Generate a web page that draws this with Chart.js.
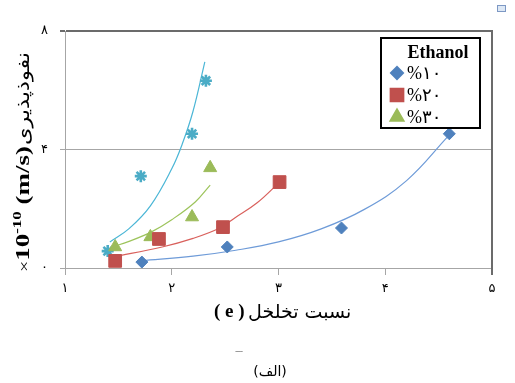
<!DOCTYPE html>
<html>
<head>
<meta charset="utf-8">
<script src="https://cdn.jsdelivr.net/npm/chart.js@4.4.1/dist/chart.umd.min.js"></script>
<style>
  html, body { margin: 0; padding: 0; background: #fff; }
  canvas { display: block; }
</style>
</head>
<body>
<canvas id="chartCanvas" width="515" height="383"></canvas>
<script>
// tick values and their Persian labels
const xTickValues = [1, 2, 3, 4, 5];
const xTickLabels = ['۱', '۲', '۳', '۴', '۵'];
const yTickValues = [0, 4, 8];
const yTickLabels = ['۰', '۴', '۸'];

// ethanol series (measured points)
const seriesLabels = ['%۱۰', '%۲۰', '%۳۰'];
const e10X = [1.72, 2.52, 3.59, 4.60];
const e10Y = [0.20, 0.71, 1.35, 4.53];
const e20X = [1.47, 1.88, 2.48, 3.01];
const e20Y = [0.24, 0.98, 1.38, 2.90];
const e30X = [1.47, 1.80, 2.19, 2.36];
const e30Y = [0.71, 1.05, 1.72, 3.38];
const e40X = [1.40, 1.71, 2.19, 2.32];
const e40Y = [0.57, 3.10, 4.53, 6.32];

// trend lines
const t10X = [1.72, 2.20, 2.60, 3.00, 3.40, 3.80, 4.20, 4.59];
const t10Y = [0.25, 0.40, 0.60, 0.88, 1.32, 1.97, 2.95, 4.45];
const t20X = [1.45, 1.91, 2.20, 2.45, 2.59, 2.80, 3.01];
const t20Y = [0.37, 0.71, 1.00, 1.35, 1.69, 2.20, 2.90];
const t30X = [1.44, 1.60, 1.81, 2.00, 2.22, 2.36];
const t30Y = [0.71, 0.90, 1.22, 1.63, 2.23, 2.80];
const t40X = [1.42, 1.60, 1.80, 2.00, 2.10, 2.20, 2.31];
const t40Y = [0.88, 1.33, 2.10, 3.35, 4.20, 5.30, 6.96];

const colors = ['#4F81BD', '#C0504D', '#9BBB59', '#4BACC6'];
const lineColors = ['#6E9BD8', '#D9605C', '#9DC45C', '#4BB6D6'];

function pts(xs, ys) {
  return xs.map((x, i) => ({ x: x, y: ys[i] }));
}

function trend(xs, ys, i) {
  return {
    type: 'line', label: '', data: pts(xs, ys),
    borderColor: lineColors[i], borderWidth: 1.2, pointRadius: 0,
    tension: 0.4, fill: false, order: 2
  };
}

const markerStyles = [
  { pointStyle: 'rectRot', pointRadius: 6, pointBorderWidth: 1 },
  { pointStyle: 'rect', pointRadius: 9, pointBorderWidth: 1 },
  { pointStyle: 'triangle', pointRadius: 7.5, pointBorderWidth: 1 },
  { pointStyle: 'star', pointRadius: 6, pointBorderWidth: 2.6 }
];

function marks(xs, ys, i, label) {
  return Object.assign({
    type: 'scatter', label: label, data: pts(xs, ys),
    backgroundColor: colors[i], borderColor: colors[i], showLine: false, order: 1
  }, markerStyles[i]);
}

const datasets = [
  trend(t10X, t10Y, 0), trend(t20X, t20Y, 1), trend(t30X, t30Y, 2), trend(t40X, t40Y, 3),
  marks(e10X, e10Y, 0, seriesLabels[0]),
  marks(e20X, e20Y, 1, seriesLabels[1]),
  marks(e30X, e30Y, 2, seriesLabels[2]),
  marks(e40X, e40Y, 3, '')
];

// draw a list of text pieces in a row, stretched to a given total width
function drawRow(ctx, parts, x, y, width) {
  let natural = 0;
  parts.forEach(p => { ctx.font = p[1]; natural += ctx.measureText(p[0]).width; });
  ctx.save();
  ctx.translate(x, y);
  ctx.scale(width / natural, 1);
  let cx = 0;
  parts.forEach(p => {
    ctx.font = p[1];
    ctx.fillText(p[0], cx, p[2]);
    cx += ctx.measureText(p[0]).width;
  });
  ctx.restore();
}

const extras = {
  id: 'extras',
  afterDraw(chart) {
    const ctx = chart.ctx;
    const area = chart.chartArea;
    ctx.save();

    // right border of plot
    ctx.strokeStyle = '#6b6b6b';
    ctx.lineWidth = 2;
    ctx.beginPath();
    ctx.moveTo(area.right, area.top - 1);
    ctx.lineTo(area.right, area.bottom + 7);
    ctx.stroke();

    // legend box
    ctx.fillStyle = '#fff';
    ctx.fillRect(381, 38, 99, 90);
    ctx.strokeStyle = '#000';
    ctx.lineWidth = 2;
    ctx.strokeRect(381, 38, 99, 90);
    ctx.fillStyle = '#000';
    ctx.font = 'bold 18px "Liberation Serif"';
    ctx.textAlign = 'center';
    ctx.textBaseline = 'middle';
    ctx.fillText('Ethanol', 438, 53);
    const rows = [73, 95, 117];
    const legendSets = chart.data.datasets.filter(d => d.type === 'scatter' && d.label);
    legendSets.forEach((d, i) => {
      ctx.fillStyle = d.backgroundColor;
      ctx.strokeStyle = d.borderColor;
      Chart.helpers.drawPoint(ctx, {
        pointStyle: d.pointStyle, radius: d.pointRadius, rotation: 0, borderWidth: d.pointBorderWidth
      }, 397, rows[i]);
      ctx.fillStyle = '#000';
      ctx.font = '18px "Liberation Serif", "DejaVu Sans"';
      ctx.textAlign = 'left';
      ctx.fillText(d.label, 407, rows[i] + 1);
    });

    // y axis title, rotated
    ctx.translate(24, 272);
    ctx.rotate(-Math.PI / 2);
    ctx.fillStyle = '#000';
    ctx.textAlign = 'left';
    ctx.textBaseline = 'middle';
    drawRow(ctx, [
      ['×', '14px "Liberation Serif"', 1],
      ['10', 'bold 19px "Liberation Serif"', 0],
      ['-10', 'bold 12px "Liberation Serif"', -6],
      [' (m/s)', 'bold 19px "Liberation Serif"', 0]
    ], 0, 0, 126);
    drawRow(ctx, [['نفوذپذیری', '18px "DejaVu Sans"', 0]], 127, 0, 93);
    ctx.restore();

    // x axis title
    ctx.save();
    ctx.fillStyle = '#000';
    ctx.textBaseline = 'middle';
    ctx.font = 'bold 19px "Liberation Serif"';
    ctx.textAlign = 'left';
    ctx.fillText('( e )', 214, 312);
    ctx.font = '19px "DejaVu Sans"';
    ctx.fillText('نسبت تخلخل', 248, 313);

    // caption
    ctx.font = '8px "DejaVu Sans"';
    ctx.fillStyle = '#777';
    ctx.textAlign = 'center';
    ctx.fillText('ـــ', 239, 350);
    ctx.font = '14px "DejaVu Sans"';
    ctx.fillStyle = '#000';
    ctx.fillText('(الف)', 270, 372);

    // small icon top right
    ctx.fillStyle = '#dde8f5';
    ctx.fillRect(497, 5, 8, 6);
    ctx.strokeStyle = '#7d98c4';
    ctx.lineWidth = 1;
    ctx.strokeRect(497.5, 5.5, 8, 6);
    ctx.restore();
  }
};

new Chart(document.getElementById('chartCanvas').getContext('2d'), {
  type: 'scatter',
  data: { datasets: datasets },
  options: {
    responsive: false,
    animation: false,
    devicePixelRatio: 1,
    layout: { padding: { left: 0, top: 31, right: 23, bottom: 0 } },
    plugins: { legend: { display: false }, tooltip: { enabled: false } },
    scales: {
      x: {
        type: 'linear', min: 1, max: 5,
        afterFit: s => { s.height = 115; },
        afterBuildTicks: s => { s.ticks = xTickValues.map(v => ({ value: v })); },
        ticks: {
          padding: 6, color: '#000',
          font: { family: '"DejaVu Sans"', size: 13 },
          callback: v => xTickLabels[xTickValues.indexOf(v)]
        },
        grid: { drawOnChartArea: false, drawTicks: true, tickLength: 7, color: '#a6a6a6' },
        border: { color: '#a6a6a6', width: 1 }
      },
      y: {
        type: 'linear', min: 0, max: 8,
        afterFit: s => { s.width = 65; },
        afterBuildTicks: s => { s.ticks = yTickValues.map(v => ({ value: v })); },
        ticks: {
          padding: 12, color: '#000',
          font: { family: '"DejaVu Sans"', size: 13 },
          callback: v => yTickLabels[yTickValues.indexOf(v)]
        },
        grid: {
          tickLength: 5,
          color: c => (c.tick && c.tick.value === 8 ? '#6b6b6b' : '#a6a6a6'),
          lineWidth: c => (c.tick && c.tick.value === 8 ? 2 : 1)
        },
        border: { color: '#a6a6a6', width: 1 }
      }
    }
  },
  plugins: [extras]
});
</script>
</body>
</html>
